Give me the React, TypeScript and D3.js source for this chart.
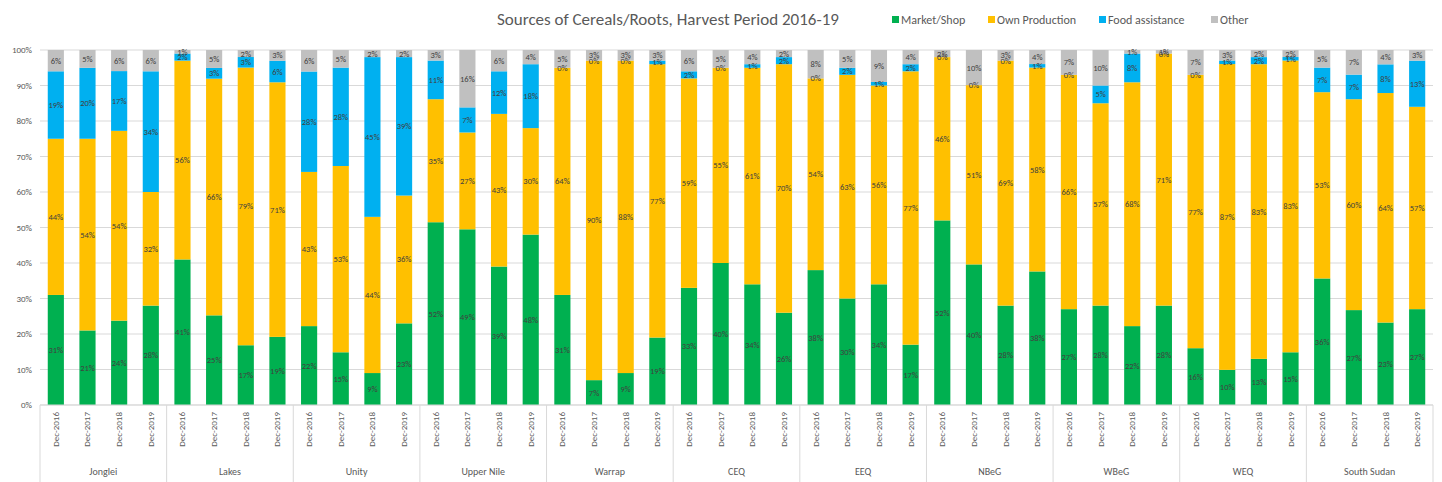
import React from "react";
import * as d3 from "d3";

const regions = ["Jonglei","Lakes","Unity","Upper Nile","Warrap","CEQ","EEQ","NBeG","WBeG","WEQ","South Sudan"];
const periods = ["Dec-2016","Dec-2017","Dec-2018","Dec-2019"];
const seriesNames = ["Market/Shop","Own Production","Food assistance","Other"];
const seriesColors = ["#00B050","#FFC000","#00B0F0","#C0C0C0"];
const yTicks = [0,0.1,0.2,0.3,0.4,0.5,0.6,0.7,0.8,0.9,1];

// values per region, per period, in order of periods
const marketShop = [
  31,21,24,28, 41,25,17,19, 22,15,9,23, 52,49,39,48, 31,7,9,19, 33,40,34,26,
  38,30,34,17, 52,40,28,38, 27,28,22,28, 16,10,13,15, 36,27,23,27,
];
const ownProduction = [
  44,54,54,32, 56,66,79,71, 43,53,44,36, 35,27,43,30, 64,90,88,77, 59,55,61,70,
  54,63,56,77, 46,51,69,58, 66,57,68,71, 77,87,83,83, 53,60,64,57,
];
const foodAssistance = [
  19,20,17,34, 2,3,3,6, 28,28,45,39, 11,7,12,18, 0,0,0,1, 2,0,1,2,
  0,2,1,2, 0,0,0,1, 0,5,8,0, 0,1,2,1, 7,7,8,13,
];
const other = [
  6,5,6,6, 1,5,2,3, 6,5,2,2, 3,16,6,4, 5,3,3,3, 6,5,4,2,
  8,5,9,4, 2,10,3,4, 7,10,1,1, 7,3,2,2, 5,7,4,3,
];

const W = 1442, H = 482;
const left = 40, right = 1433, top = 50, bottom = 405;
const FONT = "Calibri, Carlito, 'Liberation Sans Narrow', 'Open Sans', sans-serif";

export default function App() {
  const rows = regions.flatMap((r, gi) =>
    periods.map((p, pi) => {
      const i = gi * 4 + pi;
      return { key: `${r}|${p}`, region: r, period: p, v0: marketShop[i], v1: ownProduction[i], v2: foodAssistance[i], v3: other[i] };
    })
  );
  const keys = ["v0","v1","v2","v3"];
  const stack = d3.stack<any>().keys(keys).offset(d3.stackOffsetExpand);
  const stacked = stack(rows);
  const x = d3.scaleBand<string>().domain(rows.map(d => d.key)).range([left, right]).paddingInner(0.49).paddingOuter(0.245);
  const y = d3.scaleLinear().domain([0, 1]).range([bottom, top]);
  const step = x.step();
  const groupEdge = (gi: number) => left + gi * 4 * step;

  return (
    <svg width={W} height={H} style={{ position: "absolute", left: 0, top: 0, background: "#fff" }} fontFamily={FONT}>
      <text x={497} y={25} fontSize={17} fill="#595959">Sources of Cereals/Roots, Harvest Period 2016-19</text>
      {/* legend */}
      {seriesNames.map((s, i) => {
        const lx = [892, 988, 1099, 1211][i];
        return (
          <g key={s}>
            <rect x={lx} y={16} width={7} height={7} fill={seriesColors[i]} />
            <text x={lx + 9} y={23.5} fontSize={12} fill="#595959">{s}</text>
          </g>
        );
      })}
      {/* gridlines */}
      {yTicks.map(t => (
        <g key={t}>
          <line x1={left} x2={right} y1={y(t)} y2={y(t)} stroke="#D9D9D9" strokeWidth={1} />
          <text x={32} y={y(t) + 3} fontSize={9} fill="#595959" textAnchor="end">{d3.format(".0%")(t)}</text>
        </g>
      ))}
      {/* bars */}
      {stacked.map((layer, li) => (
        <g key={li}>
          {layer.map((seg, di) => (
            <rect key={di} x={x(rows[di].key)} y={y(seg[1])} width={x.bandwidth()} height={Math.max(0, y(seg[0]) - y(seg[1]))} fill={seriesColors[li]} />
          ))}
        </g>
      ))}
      {/* bar labels */}
      {stacked.map((layer, li) => (
        <g key={"l" + li}>
          {layer.map((seg, di) => {
            const raw = (rows[di] as any)[keys[li]];
            return (
              <text key={di} x={(x(rows[di].key) as number) + x.bandwidth() / 2} y={y((seg[0] + seg[1]) / 2) + 3} fontSize={8.5} fill="#404040" textAnchor="middle">{raw}%</text>
            );
          })}
        </g>
      ))}
      {/* x axis */}
      <line x1={left} x2={right} y1={bottom} y2={bottom} stroke="#D9D9D9" />
      {rows.map(d => (
        <text key={d.key} transform={`translate(${(x(d.key) as number) + x.bandwidth() / 2 + 3},${412}) rotate(-90)`} fontSize={9} fill="#595959" textAnchor="end">{d.period}</text>
      ))}
      {regions.map((r, gi) => (
        <g key={r}>
          <line x1={groupEdge(gi)} x2={groupEdge(gi)} y1={bottom} y2={H} stroke="#D9D9D9" />
          <text x={groupEdge(gi) + 2 * step} y={475} fontSize={10} fill="#595959" textAnchor="middle">{r}</text>
        </g>
      ))}
      <line x1={right} x2={right} y1={bottom} y2={H} stroke="#D9D9D9" />
    </svg>
  );
}
